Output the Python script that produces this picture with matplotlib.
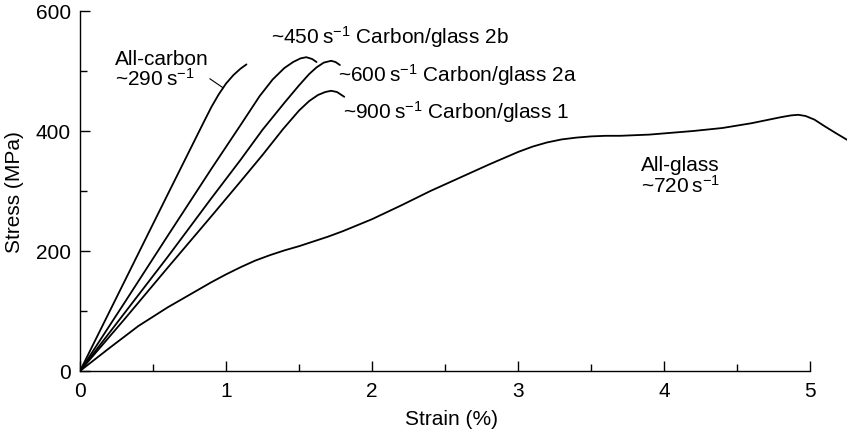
import matplotlib
matplotlib.use("Agg")
import matplotlib.pyplot as plt
from matplotlib.ticker import MultipleLocator

plt.rcParams['font.family'] = ['Liberation Sans', 'DejaVu Sans']
plt.rcParams['mathtext.fontset'] = 'custom'
plt.rcParams['mathtext.rm'] = 'Liberation Sans'
plt.rcParams['mathtext.it'] = 'Liberation Sans:italic'

# ---- data (strain %, stress MPa) ----
carbon_strain = [0, 0.3, 0.6, 0.85, 0.9, 0.95, 1.0, 1.05, 1.1, 1.14]
carbon_stress = [0, 147, 294, 416, 440, 461, 479, 493, 504, 511]

cg2b_strain = [0, 0.3, 0.6, 0.9, 1.1, 1.23, 1.32, 1.4, 1.46, 1.51, 1.55, 1.59, 1.62]
cg2b_stress = [0, 112, 225, 337, 410, 458, 486, 505, 515, 521, 523, 520, 515]

cg2a_strain = [0, 0.3, 0.6, 0.9, 1.1, 1.25, 1.4, 1.5, 1.57, 1.62, 1.67, 1.72, 1.75, 1.78]
cg2a_stress = [0, 95, 190, 288, 352, 402, 447, 476, 495, 506, 514, 517, 515, 510]

cg1_strain = [0, 0.3, 0.6, 0.9, 1.1, 1.25, 1.39, 1.5, 1.57, 1.63, 1.68, 1.72, 1.76, 1.81]
cg1_stress = [0, 85, 172, 258, 316, 360, 403, 434, 450, 460, 465, 467, 465, 457]

glass_strain = [0, 0.2, 0.4, 0.6, 0.8, 0.9, 1.0, 1.1, 1.2, 1.3, 1.4, 1.5, 1.6, 1.7,
                1.8, 1.9, 2.0, 2.2, 2.4, 2.6, 2.8, 3.0, 3.1, 3.2, 3.3, 3.4, 3.5,
                3.6, 3.7, 3.8, 3.9, 4.0, 4.2, 4.4, 4.6, 4.7, 4.8, 4.87, 4.92,
                4.97, 5.03, 5.1, 5.18, 5.27]
glass_stress = [0, 38, 75, 106, 134, 148, 161, 173, 184, 193, 201, 208, 216, 224,
                233, 243, 253, 276, 300, 322, 344, 365, 374, 381, 386, 389, 391,
                392, 392, 393, 394, 396, 400, 405, 413, 418, 423, 426, 427,
                425, 419, 408, 396, 383]

xticks = [0, 1, 2, 3, 4, 5]
yticks = [0, 200, 400, 600]

fig = plt.figure(figsize=(8.47, 4.35), dpi=100)
ax = fig.add_axes([80 / 847, 63 / 435, 767 / 847, 360 / 435])

lw = 1.3
for xs, ys in [(carbon_strain, carbon_stress), (cg2b_strain, cg2b_stress),
               (cg2a_strain, cg2a_stress), (cg1_strain, cg1_stress),
               (glass_strain, glass_stress)]:
    ax.plot(xs, ys, color='black', lw=lw, solid_capstyle='round',
            solid_joinstyle='round')

ax.set_xlim(0, 767 / 146)
ax.set_ylim(0, 600)
ax.spines['top'].set_visible(False)
ax.spines['right'].set_visible(False)
ax.spines['bottom'].set_bounds(0, 5)
ax.spines['left'].set_bounds(0, 600)
for s in ('left', 'bottom'):
    ax.spines[s].set_linewidth(1.0)

ax.set_xticks(xticks)
ax.set_yticks(yticks)
ax.xaxis.set_minor_locator(MultipleLocator(0.5))
ax.yaxis.set_minor_locator(MultipleLocator(100))
ax.tick_params(which='major', direction='in', length=7, width=1.0, labelsize=15)
ax.tick_params(which='minor', direction='in', length=5, width=1.0)
ax.tick_params(axis='x', which='major', pad=7)
ax.tick_params(axis='y', which='major', pad=6.5)

ax.set_xlabel('Strain (%)', fontsize=15)
ax.set_ylabel('Stress (MPa)', fontsize=15)
ax.xaxis.set_label_coords((451 - 80) / 767, -38 / 360)
ax.yaxis.set_label_coords(-56 / 767, 0.5)

fs = 15
inv = r'$\mathregular{^{-1}}$'
ax.text(0.24, 503, 'All-carbon\n~290\u2009s' + inv, fontsize=fs, ha='left', va='center',
        linespacing=0.95)
ax.plot([0.89, 0.98], [487, 472], color='black', lw=0.8)
ax.text(1.31, 558, '~450\u2009s' + inv + ' Carbon/glass 2b', fontsize=fs, ha='left', va='center')
ax.text(1.77, 495, '~600\u2009s' + inv + ' Carbon/glass 2a', fontsize=fs, ha='left', va='center')
ax.text(1.80, 433, '~900\u2009s' + inv + ' Carbon/glass 1', fontsize=fs, ha='left', va='center')
ax.text(3.84, 326, 'All-glass\n~720\u2009s' + inv, fontsize=fs, ha='left', va='center',
        linespacing=0.95)

fig.savefig('out.png', dpi=100)
